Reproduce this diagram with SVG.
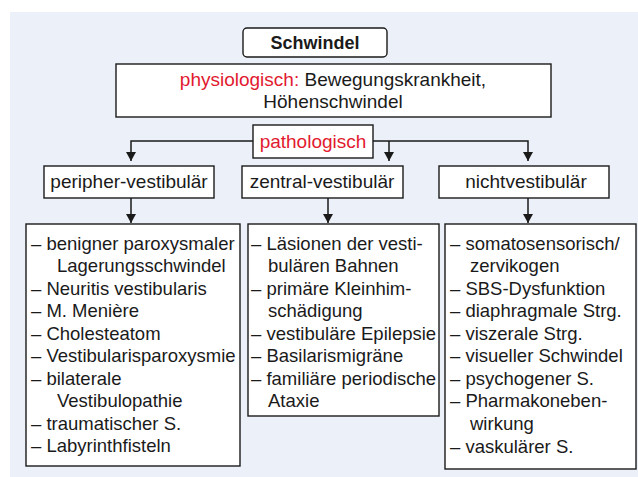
<svg xmlns="http://www.w3.org/2000/svg" width="638" height="477" viewBox="0 0 638 477">
<defs>
<style>
.box{fill:#fff;stroke:#1a1a1a;stroke-width:1.4}
.t{font-family:"Liberation Sans",Arial,sans-serif;fill:#1a1a1a}
.h{font-size:19px;text-anchor:middle}
.l{font-size:18.5px}
.red{fill:#e2192f}
.c{fill:none;stroke:#1a1a1a;stroke-width:1.5}
</style>
<marker id="ah" markerUnits="userSpaceOnUse" markerWidth="10" markerHeight="10" refX="9" refY="5" orient="auto">
<path d="M0,0 L9,5 L0,10 Z" fill="#1a1a1a"/>
</marker>
</defs>
<rect x="10" y="12" width="628" height="465" fill="#ecf0f8"/>

<g id="connectors">
<path class="c" d="M253,141 H131 V161" marker-end="url(#ah)"/>
<path class="c" d="M373,141 H528 V161" marker-end="url(#ah)"/>
<path class="c" d="M389,141 V161" marker-end="url(#ah)"/>
<path class="c" d="M131,198 V223" marker-end="url(#ah)"/>
<path class="c" d="M328,198 V223" marker-end="url(#ah)"/>
<path class="c" d="M528,198 V223" marker-end="url(#ah)"/>
</g>

<g id="schwindel">
<rect class="box" x="243" y="28" width="144" height="29" rx="4"/>
<text class="t" x="315" y="49" font-size="18px" font-weight="bold" text-anchor="middle">Schwindel</text>
</g>

<g id="physiologisch">
<rect class="box" x="116" y="64" width="435" height="53"/>
<text class="t h" x="333" y="86"><tspan class="red">physiologisch:</tspan> Bewegungskrankheit,</text>
<text class="t h" x="333" y="108">Höhenschwindel</text>
</g>

<g id="pathologisch">
<rect class="box" x="253" y="125" width="120" height="33"/>
<text class="t h red" x="313" y="148">pathologisch</text>
</g>

<g id="peripher">
<rect class="box" x="44" y="166" width="170" height="32"/>
<text class="t h" x="129" y="188">peripher-vestibulär</text>
</g>

<g id="zentral">
<rect class="box" x="242" y="166" width="161" height="32"/>
<text class="t h" x="322" y="188">zentral-vestibulär</text>
</g>

<g id="nichtvestibulaer">
<rect class="box" x="439" y="166" width="170" height="32"/>
<text class="t h" x="526" y="188">nichtvestibulär</text>
</g>

<g id="liste-peripher">
<rect class="box" x="26" y="224" width="214" height="242"/>
<text class="t l" x="31" y="249.5">– benigner paroxysmaler</text>
<text class="t l" x="57" y="272">Lagerungsschwindel</text>
<text class="t l" x="31" y="294.5">– Neuritis vestibularis</text>
<text class="t l" x="31" y="317">– M. Menière</text>
<text class="t l" x="31" y="339.5">– Cholesteatom</text>
<text class="t l" x="31" y="362">– Vestibularisparoxysmie</text>
<text class="t l" x="31" y="384.5">– bilaterale</text>
<text class="t l" x="57" y="407">Vestibulopathie</text>
<text class="t l" x="31" y="429.5">– traumatischer S.</text>
<text class="t l" x="31" y="452">– Labyrinthfisteln</text>
</g>

<g id="liste-zentral">
<rect class="box" x="248" y="224" width="191" height="192"/>
<text class="t l" x="251" y="249.5">– Läsionen der vesti-</text>
<text class="t l" x="268" y="272">bulären Bahnen</text>
<text class="t l" x="251" y="294.5">– primäre Kleinhim-</text>
<text class="t l" x="268" y="317">schädigung</text>
<text class="t l" x="251" y="339.5">– vestibuläre Epilepsie</text>
<text class="t l" x="251" y="362">– Basilarismigräne</text>
<text class="t l" x="251" y="384.5">– familiäre periodische</text>
<text class="t l" x="268" y="407">Ataxie</text>
</g>

<g id="liste-nichtvestibulaer">
<rect class="box" x="445" y="224" width="191" height="245"/>
<text class="t l" x="450" y="249.5">– somatosensorisch/</text>
<text class="t l" x="470" y="272">zervikogen</text>
<text class="t l" x="450" y="294.5">– SBS-Dysfunktion</text>
<text class="t l" x="450" y="317">– diaphragmale Strg.</text>
<text class="t l" x="450" y="339.5">– viszerale Strg.</text>
<text class="t l" x="450" y="362">– visueller Schwindel</text>
<text class="t l" x="450" y="384.5">– psychogener S.</text>
<text class="t l" x="450" y="407">– Pharmakoneben-</text>
<text class="t l" x="470" y="429.5">wirkung</text>
<text class="t l" x="450" y="453">– vaskulärer S.</text>
</g>
</svg>
